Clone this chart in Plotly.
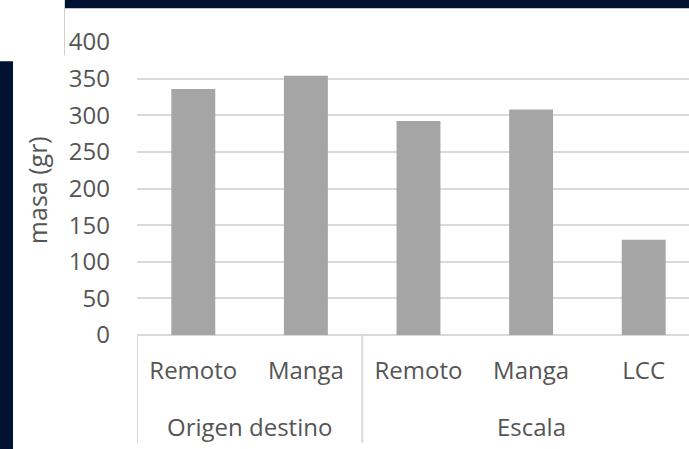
import plotly.graph_objects as go

groups = ["Origen destino", "Origen destino", "Escala", "Escala", "Escala"]
categories = ["Remoto", "Manga", "Remoto", "Manga", "LCC"]
values = [336, 354, 292, 308, 130]
y_ticks = [0, 50, 100, 150, 200, 250, 300, 350, 400]

W, H = 689, 449
L, R, T, B = 137, 0, 41.7, 114
pw, ph = W - L - R, H - T - B

def px(x):
    return (x - L) / pw

def py(y):
    return (H - B - y) / ph

DARK = "#011330"
GRID = "#d9d9d9"
TXT = "#555555"
FONT = "Open Sans"

xs = list(range(len(categories)))
fig = go.Figure(go.Bar(x=xs, y=values, marker=dict(color="#a5a5a5", line=dict(width=0)),
                       width=0.39))

unit = 112.6
xmax = -0.5 + pw / unit

fig.update_layout(
    width=W, height=H,
    margin=dict(l=L, r=R, t=T, b=B, pad=0),
    paper_bgcolor="white", plot_bgcolor="white",
    showlegend=False,
    font=dict(family=FONT, color=TXT, size=24),
    xaxis=dict(range=[-0.5, xmax], tickmode="array", tickvals=xs, ticktext=categories,
               showgrid=False, zeroline=False, showline=False, ticks="",
               ticklabelstandoff=19, tickfont=dict(size=24, color=TXT)),
    yaxis=dict(range=[0, 400], tickvals=y_ticks, showgrid=True, gridcolor=GRID, gridwidth=2,
               zeroline=True, zerolinecolor=GRID, zerolinewidth=2, showline=False, ticks="",
               ticklabelstandoff=26, tickfont=dict(size=24, color=TXT)),
)

shapes = []
# group dividers
bounds = [-0.5]
for i in range(1, len(groups)):
    if groups[i] != groups[i - 1]:
        bounds.append(i - 0.5)
bounds.append(len(groups) - 0.5)
for b in bounds:
    shapes.append(dict(type="line", xref="x", yref="paper", x0=b, x1=b, y0=0, y1=py(443),
                       line=dict(color=GRID, width=2)))
# screenshot frame
shapes.append(dict(type="rect", xref="paper", yref="paper", x0=px(65), x1=px(700),
                   y0=py(8), y1=py(-5), fillcolor=DARK, line=dict(width=0), layer="above"))
shapes.append(dict(type="rect", xref="paper", yref="paper", x0=px(-5), x1=px(13),
                   y0=py(460), y1=py(61), fillcolor=DARK, line=dict(width=0), layer="above"))
shapes.append(dict(type="line", xref="paper", yref="paper", x0=px(64.5), x1=px(64.5),
                   y0=py(55), y1=py(0), line=dict(color="#d0d0d0", width=1)))
fig.update_layout(shapes=shapes)

# group labels
annotations = []
seen = []
for g in groups:
    if g not in seen:
        seen.append(g)
for g in seen:
    idx = [i for i, gg in enumerate(groups) if gg == g]
    annotations.append(dict(xref="x", yref="paper", x=sum(idx) / len(idx), y=py(427),
                            text=g, showarrow=False, yanchor="middle",
                            font=dict(size=24, color=TXT, family=FONT)))
annotations.append(dict(xref="paper", yref="paper", x=px(37), y=py(190), text="masa (gr)",
                        textangle=-90, showarrow=False, xanchor="center", yanchor="middle",
                        font=dict(size=25, color=TXT, family=FONT)))
fig.update_layout(annotations=annotations)

fig.write_html("out.html", config={"displayModeBar": False},
               post_script="document.body.style.margin='0';document.body.style.overflow='hidden';")
